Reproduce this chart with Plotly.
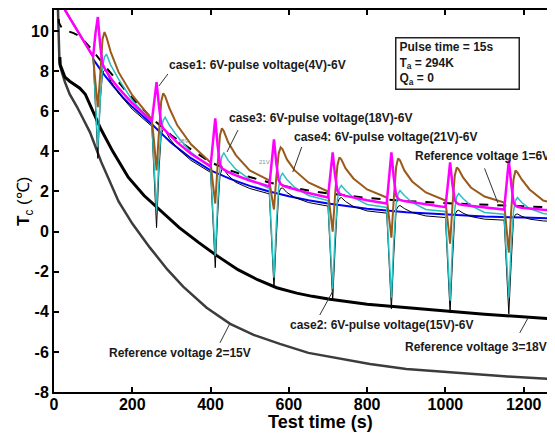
import plotly.graph_objects as go

# ---------------- data ----------------
# Reference voltage 1 = 6V (dashed black)
ref1_t = [12, 13, 20, 35, 50, 65, 80, 100, 130, 160, 200, 250, 300, 350, 400, 450, 500,
          550, 600, 650, 700, 800, 900, 1000, 1100, 1200, 1290]
ref1_v = [10.6, 10.4, 10.15, 10.0, 9.9, 9.75, 9.45, 9.0, 8.25, 7.55, 6.65, 5.65, 4.8, 4.1,
          3.45, 3.05, 2.72, 2.45, 2.22, 2.05, 1.9, 1.68, 1.52, 1.42, 1.33, 1.26, 1.2]

# Reference voltage 3 = 18V (upper thick black)
ref3_t = [15, 16, 20, 28, 40, 66, 80, 100, 120, 150, 190, 230, 271, 320, 370, 416, 470,
          520, 569, 620, 660, 705, 800, 900, 994, 1100, 1200, 1290]
ref3_v = [8.7, 8.3, 8.1, 7.7, 7.5, 7.15, 6.85, 6.0, 5.1, 4.0, 2.7, 1.8, 1.05, 0.2, -0.55,
          -1.2, -1.9, -2.4, -2.8, -3.07, -3.23, -3.37, -3.62, -3.8, -3.95, -4.12, -4.27, -4.37]

# Reference voltage 2 = 15V (lower dark grey)
ref2_t = [10, 11, 12, 14, 20, 28, 40, 58, 75, 92, 120, 165, 200, 245, 290, 330, 390, 450,
          510, 577, 650, 730, 807, 900, 1000, 1063, 1150, 1290]
ref2_v = [11.2, 10.6, 9.5, 8.4, 7.95, 7.45, 6.85, 6.25, 5.6, 4.95, 3.5, 1.5, 0.4, -0.8,
          -1.9, -2.75, -3.8, -4.6, -5.15, -5.6, -6.05, -6.35, -6.6, -6.85, -7.0, -7.1, -7.22, -7.37]

# Blue curve
blue_t = [100, 125, 150, 175, 200, 250, 300, 350, 400, 450, 500, 550, 600, 650, 700, 800,
          900, 1000, 1100, 1200, 1290]
blue_v = [8.6, 7.9, 7.29, 6.72, 6.22, 5.35, 4.42, 3.66, 3.05, 2.63, 2.28, 2.0, 1.76, 1.56,
          1.4, 1.14, 0.97, 0.85, 0.75, 0.7, 0.65]

# shared time samples of the pulse cases
case_t = [20, 28, 45, 65, 85,
          100, 106, 112, 118, 124, 129, 134, 145, 165, 200,
          250, 256, 262, 268, 274, 279, 284, 295, 315, 350,
          400, 406, 412, 418, 424, 429, 434, 445, 465, 500,
          550, 556, 562, 568, 574, 579, 584, 595, 615, 650,
          700, 706, 712, 718, 724, 729, 734, 745, 765, 800,
          850, 856, 862, 868, 874, 879, 884, 895, 915, 950,
          1000, 1006, 1012, 1018, 1024, 1029, 1034, 1045, 1065, 1100,
          1150, 1156, 1162, 1168, 1174, 1179, 1184, 1195, 1215, 1250,
          1290]

# case1: 6V-pulse voltage(4V)-6V (magenta)
case1_v = [11.5, 11.05, 10.5, 9.85, 9.2,
           8.72, 9.9, 10.7, 9.3, 8.35, 8.15, 8.0, 7.65, 7.15, 6.4,
           5.5, 6.5, 7.45, 6.3, 5.35, 5.15, 5.03, 4.82, 4.45, 3.88,
           3.25, 4.4, 5.65, 4.3, 3.35, 3.15, 3.08, 2.97, 2.8, 2.55,
           2.25, 3.4, 4.6, 3.4, 2.55, 2.38, 2.3, 2.22, 2.1, 1.92,
           1.7, 2.8, 3.95, 2.8, 2.05, 1.9, 1.84, 1.78, 1.7, 1.56,
           1.4, 2.6, 3.95, 2.7, 1.8, 1.65, 1.58, 1.52, 1.46, 1.36,
           1.22, 2.3, 3.45, 2.35, 1.55, 1.42, 1.37, 1.33, 1.28, 1.2,
           1.1, 2.3, 3.55, 2.4, 1.45, 1.3, 1.24, 1.19, 1.14, 1.09,
           1.05]

# case4: 6V-pulse voltage(21V)-6V (brown)
case4_v = [11.5, 11.05, 10.5, 9.85, 9.2,
           8.72, 7.4, 6.2, 7.8, 9.6, 9.95, 9.7, 8.95, 7.95, 6.8,
           5.6, 4.4, 3.05, 4.9, 6.5, 6.9, 6.75, 6.15, 5.3, 4.35,
           3.45, 2.4, 1.4, 3.3, 4.8, 5.15, 5.0, 4.45, 3.8, 3.05,
           2.55, 1.8, 1.1, 2.7, 3.9, 4.2, 4.1, 3.6, 3.05, 2.45,
           2.0, 1.0, 0.0, 1.8, 3.3, 3.7, 3.6, 3.15, 2.65, 2.1,
           1.7, 0.7, -0.3, 1.6, 3.2, 3.65, 3.55, 3.05, 2.5, 1.95,
           1.55, 0.5, -0.6, 1.3, 2.8, 3.2, 3.1, 2.7, 2.2, 1.75,
           1.45, 0.2, -1.05, 1.0, 2.6, 3.05, 2.95, 2.6, 2.1, 1.55,
           1.35]

# case3: 6V-pulse voltage(18V)-6V (cyan)
case3_v = [11.5, 11.05, 10.5, 9.85, 9.2,
           8.72, 6.5, 4.2, 6.6, 8.2, 8.7, 8.85, 8.3, 7.6, 6.55,
           5.45, 3.2, 1.05, 3.6, 5.1, 5.55, 5.7, 5.3, 4.75, 3.95,
           3.2, 1.0, -1.2, 1.4, 3.2, 3.75, 3.92, 3.55, 3.1, 2.6,
           2.15, -0.1, -2.3, 0.4, 2.2, 2.75, 2.9, 2.6, 2.2, 1.8,
           1.55, -0.7, -2.85, -0.2, 1.6, 2.15, 2.3, 2.05, 1.7, 1.35,
           1.2, -1.05, -3.3, -0.5, 1.35, 1.9, 2.05, 1.8, 1.45, 1.1,
           1.0, -1.2, -3.45, -0.7, 1.15, 1.75, 1.9, 1.65, 1.3, 0.95,
           0.87, -1.2, -3.3, -0.7, 1.0, 1.55, 1.7, 1.45, 1.15, 0.9,
           0.82]

# case2: 6V-pulse voltage(15V)-6V (thin black)
case2_v = [11.5, 11.05, 10.5, 9.85, 9.2,
           8.7, 6.2, 3.65, 6.5, 7.9, 8.05, 7.98, 7.5, 6.9, 6.1,
           5.25, 2.7, 0.2, 3.0, 4.85, 5.1, 5.05, 4.65, 4.15, 3.55,
           2.95, 0.6, -1.8, 0.8, 2.8, 3.1, 3.1, 2.8, 2.45, 2.15,
           1.88, -0.45, -2.8, -0.3, 1.9, 2.15, 2.18, 1.95, 1.7, 1.45,
           1.27, -1.1, -3.45, -0.9, 1.4, 1.65, 1.7, 1.5, 1.25, 1.03,
           0.92, -1.45, -3.85, -1.2, 1.05, 1.25, 1.3, 1.15, 0.95, 0.78,
           0.7, -1.7, -4.05, -1.5, 0.8, 1.03, 1.06, 0.92, 0.75, 0.62,
           0.57, -1.8, -4.1, -1.6, 0.65, 0.85, 0.88, 0.76, 0.62, 0.53,
           0.5]

x_ticks = [0, 200, 400, 600, 800, 1000, 1200]
x_tick_text = ["0", "200", "400", "600", "800", "1000", "1200"]
y_ticks = [-8, -6, -4, -2, 0, 2, 4, 6, 8, 10]
y_tick_text = ["-8", "-6", "-4", "-2", "0", "2", "4", "6", "8", "10"]

FONT = "Liberation Sans"
TXT = "#1a1a1a"

fig = go.Figure()

def add_line(t, v, color, width, dash="solid"):
    fig.add_trace(go.Scatter(x=t, y=v, mode="lines", showlegend=False, hoverinfo="skip",
                             line=dict(color=color, width=width, dash=dash)))

add_line(ref2_t, ref2_v, "#3c3c3c", 2.5)
add_line(ref3_t, ref3_v, "#000000", 3)
add_line(blue_t, blue_v, "#0000ff", 2)
add_line(ref1_t, ref1_v, "#000000", 2, "dash")
add_line(case_t, case2_v, "#000000", 1)
add_line(case_t, case3_v, "#2bbfbf", 1.5)
add_line(case_t, case4_v, "#9a5a1c", 2)
add_line(case_t, case1_v, "#ff00ff", 2.5)

# text labels (data coordinates)
labels = [
    ("case1: 6V-pulse voltage(4V)-6V", 288, 8.3),
    ("case3: 6V-pulse voltage(18V)-6V", 442, 5.66),
    ("case4: 6V-pulse voltage(21V)-6V", 608, 4.72),
    ("Reference voltage 1=6V", 917, 3.77),
    ("case2: 6V-pulse voltage(15V)-6V", 598, -4.66),
    ("Reference voltage 2=15V", 135, -6.05),
    ("Reference voltage 3=18V", 891, -5.75),
]
for text, lx, ly in labels:
    fig.add_annotation(x=lx, y=ly, xref="x", yref="y", text=text, showarrow=False,
                       xanchor="left", yanchor="middle",
                       font=dict(family=FONT, size=12, color=TXT, weight="bold"))

pointers = [
    (291, 7.86, 268, 7.26),
    (470, 5.06, 442, 3.97),
    (633, 4.22, 610, 2.97),
    (1100, 3.15, 1134, 1.43),
    (679, -4.16, 713, -2.95),
    (424, -5.55, 450, -4.56),
    (1190, -5.05, 1211, -4.31),
]
for x0, y0, x1, y1 in pointers:
    fig.add_shape(type="line", x0=x0, y0=y0, x1=x1, y1=y1, xref="x", yref="y",
                  line=dict(color="#333333", width=1))

# tiny grey markings
for text, lx, ly in [("18V", 330, 4.52), ("21V", 539, 3.47)]:
    fig.add_annotation(x=lx, y=ly, xref="x", yref="y", text=text, showarrow=False,
                       font=dict(family=FONT, size=6, color="#8a8a8a"))

# info box
fig.add_annotation(x=871, y=9.72, xref="x", yref="y", xanchor="left", yanchor="top",
                   text="Pulse time = 15s<br>T<sub>a</sub> = 294K<br>Q<sub>a</sub> = 0",
                   showarrow=False, align="left", bordercolor="#222222", borderwidth=1.5,
                   borderpad=3, bgcolor="white", width=116, height=44,
                   font=dict(family=FONT, size=12, color=TXT, weight="bold"))

# axis titles
fig.add_annotation(x=0.531, y=-0.079, xref="paper", yref="paper", showarrow=False,
                   text="Test time (s)", xanchor="center", yanchor="middle",
                   font=dict(family=FONT, size=18, color="black", weight="bold"))
fig.add_annotation(x=-0.058, y=0.50, xref="paper", yref="paper", showarrow=False,
                   text="<b>T</b><sub>c</sub> (℃)", textangle=-90,
                   xanchor="center", yanchor="middle",
                   font=dict(family=FONT, size=17, color="black"))

axis_common = dict(showgrid=False, zeroline=False, showline=True, linecolor="black",
                   linewidth=2, ticks="inside", ticklen=5, tickwidth=1.5, tickcolor="black",
                   automargin=False,
                   tickfont=dict(family=FONT, size=16, color="black", weight="bold"))

fig.update_xaxes(range=[0, 1280], tickvals=x_ticks, ticktext=x_tick_text, mirror="ticks",
                 ticklabelstandoff=-3, **axis_common)
fig.update_yaxes(range=[-8, 11.05], tickvals=y_ticks, ticktext=y_tick_text, mirror=False,
                 **axis_common)

# the page body adds an 8px margin, so the figure is drawn 8px smaller/shifted
fig.update_layout(width=547, height=427, margin=dict(l=46, r=0, t=2, b=43),
                  paper_bgcolor="white", plot_bgcolor="white", showlegend=False)

fig.write_html("out.html")
